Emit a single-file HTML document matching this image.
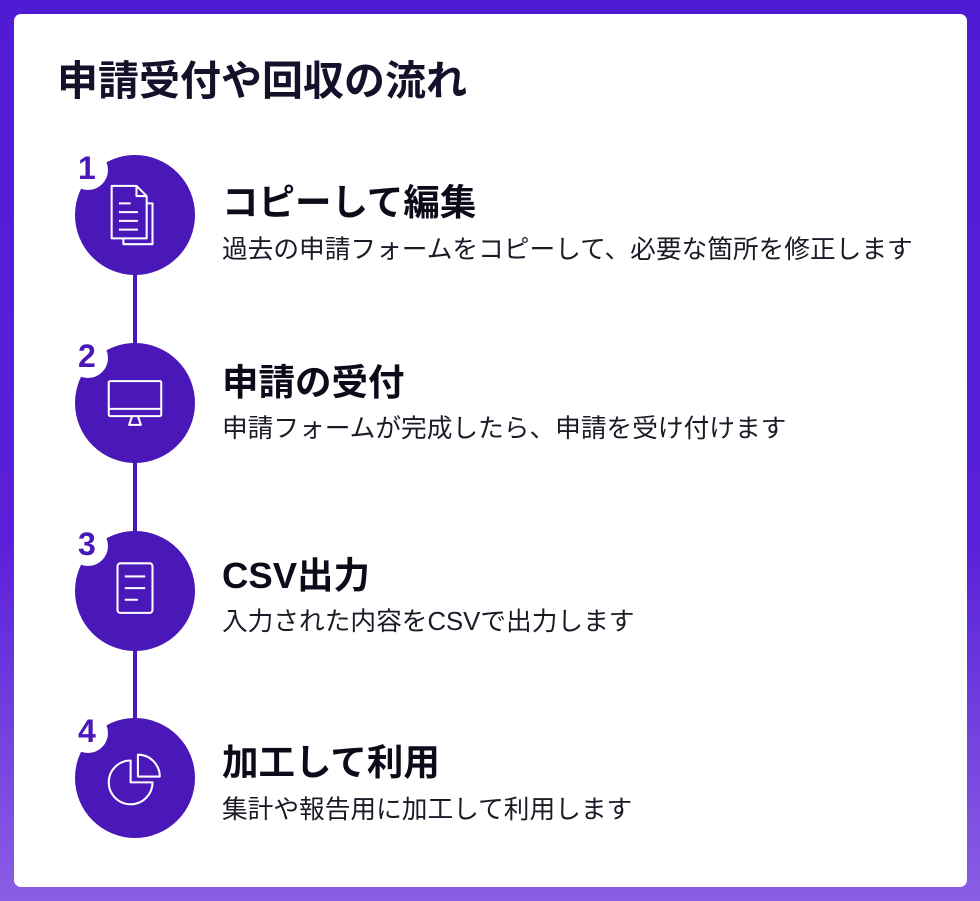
<!DOCTYPE html>
<html><head><meta charset="utf-8"><style>
*{margin:0;padding:0;box-sizing:border-box}
body{width:980px;height:901px;overflow:hidden;background:linear-gradient(180deg,#4f1bd3 0%,#5a20d9 60%,#8a5ee4 100%);font-family:"Liberation Sans","Noto Sans CJK JP",sans-serif;position:relative}
.card{position:absolute;left:14px;top:14px;width:953px;height:873px;background:#fff;border-radius:7px}
h1{position:absolute;left:57px;top:61px;font-size:41px;line-height:1;font-weight:700;color:#14112a;white-space:nowrap}
.line{position:absolute;left:133px;top:215px;width:4px;height:563px;background:#4a17b8}
.c{position:absolute;left:75px;width:120px;height:120px;border-radius:50%;background:#4a17b8}
.c svg{position:absolute;left:25px;top:25px}
.b{position:absolute;left:68px;width:40px;height:40px;border-radius:50%;background:#fff;color:#4a17b8;font-weight:700;font-size:32px;text-align:left;padding-left:10px;line-height:36px}
.h{position:absolute;left:222px;font-size:36.5px;line-height:1;font-weight:700;color:#0d0b1a;white-space:nowrap}
.d{position:absolute;left:222px;font-size:25.7px;line-height:1;color:#1c1a26;white-space:nowrap}
</style></head><body>
<div class="card"></div>
<h1>申請受付や回収の流れ</h1>
<div class="line"></div>

<div class="c" style="top:155px"><svg width="70" height="70" viewBox="6 6 48 48" fill="none" stroke="#fff" stroke-width="1.4" stroke-linejoin="round"><path d="M14 10h17l7 7v29H14z"/><path d="M31 10v7h7"/><path d="M38 22h4v28H22v-4"/><path d="M19 22h8M19 28h13M19 34h13M19 40h13"/></svg></div>
<div class="b" style="top:150px">1</div>
<div class="h" style="top:185px">コピーして編集</div>
<div class="d" style="top:238px">過去の申請フォームをコピーして、必要な箇所を修正します</div>

<div class="c" style="top:343px"><svg width="70" height="70" viewBox="6 6 48 48" fill="none" stroke="#fff" stroke-width="1.4" stroke-linejoin="round"><rect x="12" y="15" width="36" height="24" rx="1"/><path d="M12 34h36M28 39l-2 6h8l-2-6"/></svg></div>
<div class="b" style="top:338px">2</div>
<div class="h" style="top:365px">申請の受付</div>
<div class="d" style="top:417px">申請フォームが完成したら、申請を受け付けます</div>

<div class="c" style="top:531px"><svg width="70" height="70" viewBox="6 6 48 48" fill="none" stroke="#fff" stroke-width="1.4" stroke-linejoin="round"><rect x="18" y="11" width="24" height="34" rx="2"/><path d="M23 20h14M23 28h14M23 36h9"/></svg></div>
<div class="b" style="top:526px">3</div>
<div class="h" style="top:558px">CSV出力</div>
<div class="d" style="top:610px">入力された内容をCSVで出力します</div>

<div class="c" style="top:718px"><svg width="70" height="70" viewBox="6 6 48 48" fill="none" stroke="#fff" stroke-width="1.4" stroke-linejoin="round"><path d="M27 18a15 15 0 1 0 15 15H27z"/><path d="M32 14a15 15 0 0 1 15 15H32z"/></svg></div>
<div class="b" style="top:713px">4</div>
<div class="h" style="top:745px">加工して利用</div>
<div class="d" style="top:798px">集計や報告用に加工して利用します</div>
</body></html>
